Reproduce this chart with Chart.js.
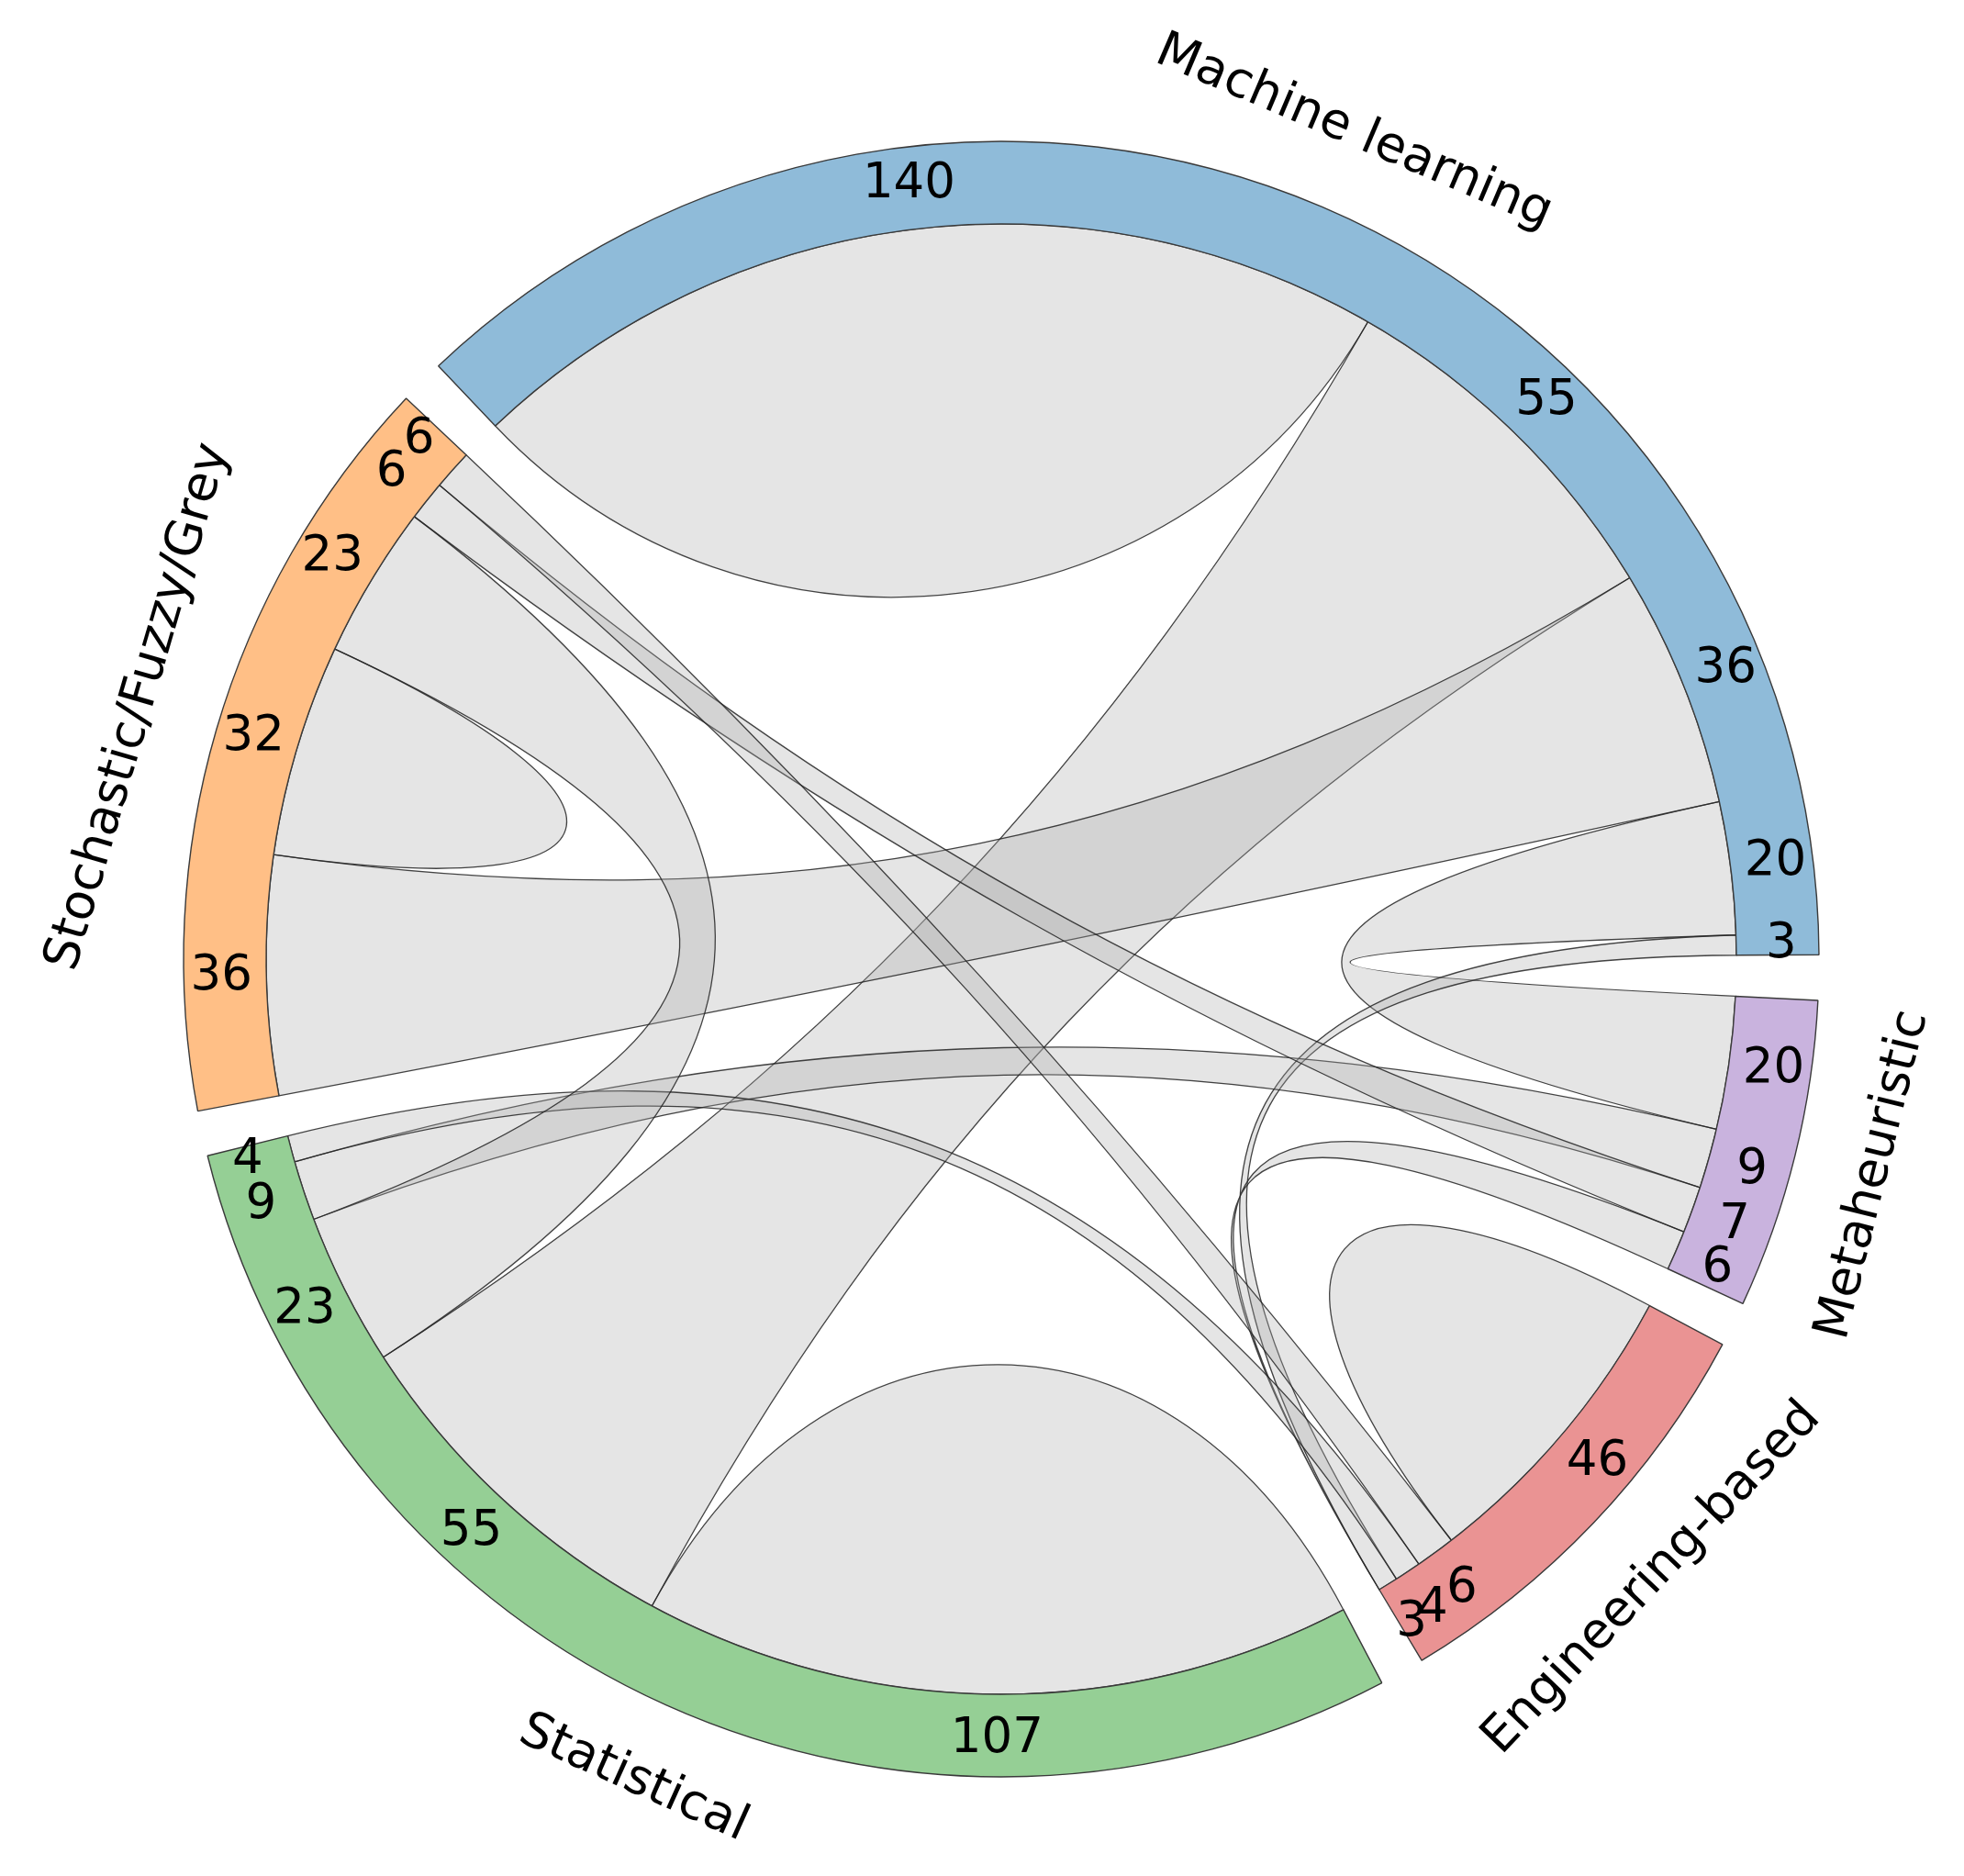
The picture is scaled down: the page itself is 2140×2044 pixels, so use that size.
<!DOCTYPE html>
<html>
<head>
<meta charset="utf-8">
<script src="https://cdn.jsdelivr.net/npm/chart.js@4.4.0/dist/chart.umd.min.js"></script>
<style>
  html, body { margin: 0; padding: 0; background: #fff; }
  canvas { display: block; }
</style>
</head>
<body>
<canvas id="chord" width="2140" height="2044"></canvas>
<script>
var grupos = ['Machine learning', 'Metaheuristic', 'Engineering-based', 'Statistical', 'Stochastic/Fuzzy/Grey'];
var colores = ['#8fbbd9', '#c9b3de', '#ea9393', '#95cf95', '#ffbf86'];

// fila i: ancho del enlace en el extremo del grupo i hacia cada grupo j (mismo orden que grupos)
var filaML    = [140, 20,  3,  55, 36];
var filaMeta  = [ 20,  0,  6,   9,  7];
var filaEng   = [  3,  0, 46,   4,  6];
var filaStat  = [ 55,  9,  4, 107, 23];
var filaStoch = [ 36,  6,  6,  23, 32];

var matriz = [filaML, filaMeta, filaEng, filaStat, filaStoch];

var GAP_DEG = 3.2;      // hueco entre grupos
var K_CUERDA = 0.3;     // radio de control de las cuerdas (fraccion del radio)
var K_PROPIA = 0.5;     // radio de control de los lazos propios

var totales = matriz.map(function (f) { return f.reduce(function (a, b) { return a + b; }, 0); });
var sumaTotal = totales.reduce(function (a, b) { return a + b; }, 0);
var hueco = GAP_DEG / (360 - grupos.length * GAP_DEG) * sumaTotal;

var etiquetas = [], valores = [], fondos = [], bordes = [];
grupos.forEach(function (g, i) {
  etiquetas.push(g); valores.push(totales[i]); fondos.push(colores[i]); bordes.push('#3a3a3a');
  etiquetas.push(''); valores.push(hueco); fondos.push('rgba(0,0,0,0)'); bordes.push('rgba(0,0,0,0)');
});

// angulos de cada tramo dentro de su grupo, ordenados de mayor a menor
function calcularTramos(arcos) {
  var tramos = [];
  for (var i = 0; i < grupos.length; i++) {
    var arco = arcos[i * 2];
    var unidad = (arco.endAngle - arco.startAngle) / totales[i];
    var orden = matriz[i].map(function (v, j) { return j; });
    orden.sort(function (a, b) { return (matriz[i][b] - matriz[i][a]) || (a - b); });
    var acum = arco.startAngle;
    tramos[i] = [];
    orden.forEach(function (j) {
      var w = matriz[i][j] * unidad;
      tramos[i][j] = { a: acum, b: acum + w, v: matriz[i][j] };
      acum += w;
    });
  }
  return tramos;
}

function punto(cx, cy, r, ang) {
  return [cx + r * Math.cos(ang), cy + r * Math.sin(ang)];
}

var cuerdas = {
  id: 'cuerdas',
  beforeDatasetsDraw: function (chart) {
    var arcos = chart.getDatasetMeta(0).data;
    var tramos = calcularTramos(arcos);
    var cx = arcos[0].x, cy = arcos[0].y, r = arcos[0].innerRadius;
    var ctx = chart.ctx;
    ctx.save();
    ctx.fillStyle = 'rgba(170,170,170,0.3)';
    ctx.strokeStyle = 'rgba(35,35,35,0.85)';
    ctx.lineWidth = 1.3;
    for (var i = 0; i < grupos.length; i++) {
      for (var j = i; j < grupos.length; j++) {
        if (!(matriz[i][j] > 0 || matriz[j][i] > 0)) continue;
        var s1 = tramos[i][j], s2 = tramos[j][i];
        ctx.beginPath();
        if (i === j) {
          var p = punto(cx, cy, r, s1.a);
          ctx.moveTo(p[0], p[1]);
          ctx.arc(cx, cy, r, s1.a, s1.b);
          var c1 = punto(cx, cy, r * K_PROPIA, s1.b), c2 = punto(cx, cy, r * K_PROPIA, s1.a);
          ctx.bezierCurveTo(c1[0], c1[1], c2[0], c2[1], p[0], p[1]);
        } else {
          var p1 = punto(cx, cy, r, s1.a), p2 = punto(cx, cy, r, s2.a);
          ctx.moveTo(p1[0], p1[1]);
          ctx.arc(cx, cy, r, s1.a, s1.b);
          var d1 = punto(cx, cy, r * K_CUERDA, s1.b), d2 = punto(cx, cy, r * K_CUERDA, s2.a);
          ctx.bezierCurveTo(d1[0], d1[1], d2[0], d2[1], p2[0], p2[1]);
          ctx.arc(cx, cy, r, s2.a, s2.b);
          var e1 = punto(cx, cy, r * K_CUERDA, s2.b), e2 = punto(cx, cy, r * K_CUERDA, s1.a);
          ctx.bezierCurveTo(e1[0], e1[1], e2[0], e2[1], p1[0], p1[1]);
        }
        ctx.closePath();
        ctx.fill();
        ctx.stroke();
      }
    }
    ctx.restore();
  },
  afterDatasetsDraw: function (chart) {
    var arcos = chart.getDatasetMeta(0).data;
    var tramos = calcularTramos(arcos);
    var cx = arcos[0].x, cy = arcos[0].y;
    var rMedio = (arcos[0].innerRadius + arcos[0].outerRadius) / 2 + 4;
    var ctx = chart.ctx;
    ctx.save();
    ctx.fillStyle = '#000';
    ctx.textAlign = 'center';
    ctx.textBaseline = 'middle';
    ctx.font = '53px "DejaVu Sans"';
    for (var i = 0; i < grupos.length; i++) {
      for (var j = 0; j < grupos.length; j++) {
        var t = tramos[i][j];
        if (!t.v) continue;
        var p = punto(cx, cy, rMedio, (t.a + t.b) / 2);
        ctx.fillText(String(t.v), p[0], p[1]);
      }
    }
    // nombres de grupo, tangentes al circulo
    ctx.font = '54px "DejaVu Sans"';
    var rNombre = arcos[0].outerRadius + 88;
    for (var g = 0; g < grupos.length; g++) {
      var arco = arcos[g * 2];
      var ang = (arco.startAngle + arco.endAngle) / 2;
      var q = punto(cx, cy, rNombre, ang);
      var rot = ang + Math.PI / 2;
      var grados = ((rot * 180 / Math.PI) % 360 + 360) % 360;
      if (grados > 90 && grados < 270) rot -= Math.PI;
      ctx.save();
      ctx.translate(q[0], q[1]);
      ctx.rotate(rot);
      ctx.fillText(grupos[g], 0, 0);
      ctx.restore();
    }
    ctx.restore();
  }
};

var ctx = document.getElementById('chord').getContext('2d');
var grafico = new Chart(ctx, {
  type: 'doughnut',
  data: {
    labels: etiquetas,
    datasets: [{
      data: valores,
      backgroundColor: fondos,
      borderColor: bordes,
      borderWidth: 1.4
    }]
  },
  options: {
    responsive: false,
    animation: false,
    rotation: -43.5,
    radius: 891,
    cutout: (801 / 891 * 100) + '%',
    layout: { padding: { left: 142, right: 100, top: 146, bottom: 100 } },
    plugins: {
      legend: { display: false },
      tooltip: { enabled: false }
    }
  },
  plugins: [cuerdas]
});
</script>
</body>
</html>
